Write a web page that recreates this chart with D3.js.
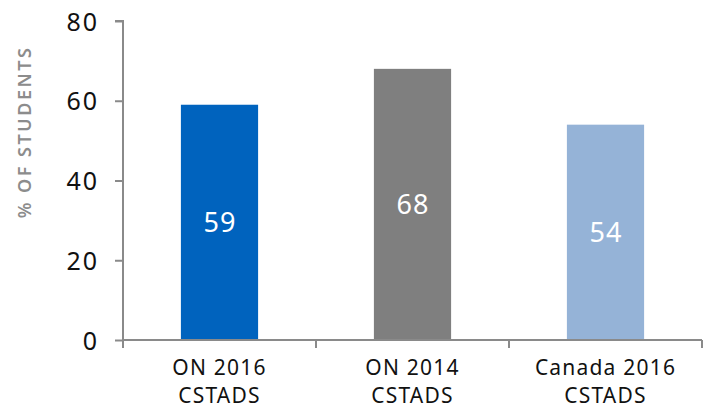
<!DOCTYPE html>
<html>
<head>
<meta charset="utf-8">
<script src="https://cdn.jsdelivr.net/npm/d3@7"></script>
<style>
  html, body { margin: 0; padding: 0; background: #fff; }
  svg { display: block; }
</style>
</head>
<body>
<svg id="chart" width="708" height="408"></svg>
<script>
// Share of students, by survey
const categories = [["ON 2016", "CSTADS"], ["ON 2014", "CSTADS"], ["Canada 2016", "CSTADS"]];
const values = [59, 68, 54];
const barColors = ["#0063BE", "#7F7F7F", "#95B3D7"];
const yTicks = [0, 20, 40, 60, 80];
const yTitle = "% OF STUDENTS";

const svg = d3.select("#chart");
const font = "'Noto Sans', sans-serif";
const axisColor = "#8A8A8A";

const x0 = 123, x1 = 702, yTop = 21, yBottom = 340;

const x = d3.scaleBand()
  .domain(d3.range(categories.length))
  .range([x0, x1])
  .paddingInner(0.6)
  .paddingOuter(0.3);

const band = d3.scaleBand()
  .domain(d3.range(categories.length))
  .range([x0, x1]);

const y = d3.scaleLinear().domain([0, 80]).range([yBottom, yTop]);

// Bars
svg.append("g").selectAll("rect")
  .data(values)
  .join("rect")
  .attr("x", (d, i) => x(i))
  .attr("y", d => y(d))
  .attr("width", x.bandwidth())
  .attr("height", d => y(0) - y(d))
  .attr("fill", (d, i) => barColors[i]);

// Value labels, centred in each bar
svg.append("g").selectAll("text")
  .data(values)
  .join("text")
  .attr("x", (d, i) => x(i) + x.bandwidth() / 2 + 0.5)
  .attr("y", d => (y(d) + y(0)) / 2)
  .attr("dy", "0.36em")
  .attr("text-anchor", "middle")
  .attr("fill", "#fff")
  .style("font-family", font)
  .style("font-size", "27px")
  .style("letter-spacing", "1px")
  .text(d => d);

// Y axis
const yAxis = svg.append("g").attr("transform", `translate(${x0},0)`)
  .call(d3.axisLeft(y).tickValues(yTicks).tickSize(8).tickPadding(16));
yAxis.select(".domain").attr("stroke", axisColor).attr("stroke-width", 2)
  .attr("d", `M-8,${yTop}H0V${yBottom}`);
yAxis.selectAll(".tick line").attr("stroke", axisColor).attr("stroke-width", 2);
yAxis.selectAll(".tick text")
  .attr("fill", "#111")
  .attr("dy", "0.36em")
  .style("font-family", font)
  .style("font-size", "25px")
  .style("letter-spacing", "2px");

// X axis with ticks at band boundaries
const xAxis = svg.append("g").attr("transform", `translate(0,${yBottom})`);
xAxis.append("line")
  .attr("x1", x0).attr("x2", x1)
  .attr("stroke", axisColor).attr("stroke-width", 2);
const bounds = d3.range(categories.length + 1).map(i => i < categories.length ? band(i) : x1);
xAxis.selectAll("line.bound")
  .data(bounds)
  .join("line")
  .attr("class", "bound")
  .attr("x1", d => d).attr("x2", d => d)
  .attr("y1", 0).attr("y2", 8)
  .attr("stroke", axisColor).attr("stroke-width", 2);

const catText = xAxis.selectAll("text.cat")
  .data(categories.map((lines, i) => ({ lines, i })))
  .join("text")
  .attr("class", "cat")
  .attr("text-anchor", "middle")
  .attr("fill", "#111")
  .style("font-family", font)
  .style("font-size", "21px")
  .style("letter-spacing", "1.2px");
catText.selectAll("tspan")
  .data(d => d.lines.map(t => ({ t, i: d.i })))
  .join("tspan")
  .attr("x", d => x(d.i) + x.bandwidth() / 2)
  .attr("y", (d, j) => 35 + j * 28)
  .text(d => d.t);

// Y axis title
svg.append("text")
  .attr("transform", `translate(31,132) rotate(-90)`)
  .attr("text-anchor", "middle")
  .attr("fill", "#8C8C8C")
  .style("font-family", font)
  .style("font-size", "18px")
  .style("font-weight", "600")
  .style("letter-spacing", "2.5px")
  .text(yTitle);
</script>
</body>
</html>
